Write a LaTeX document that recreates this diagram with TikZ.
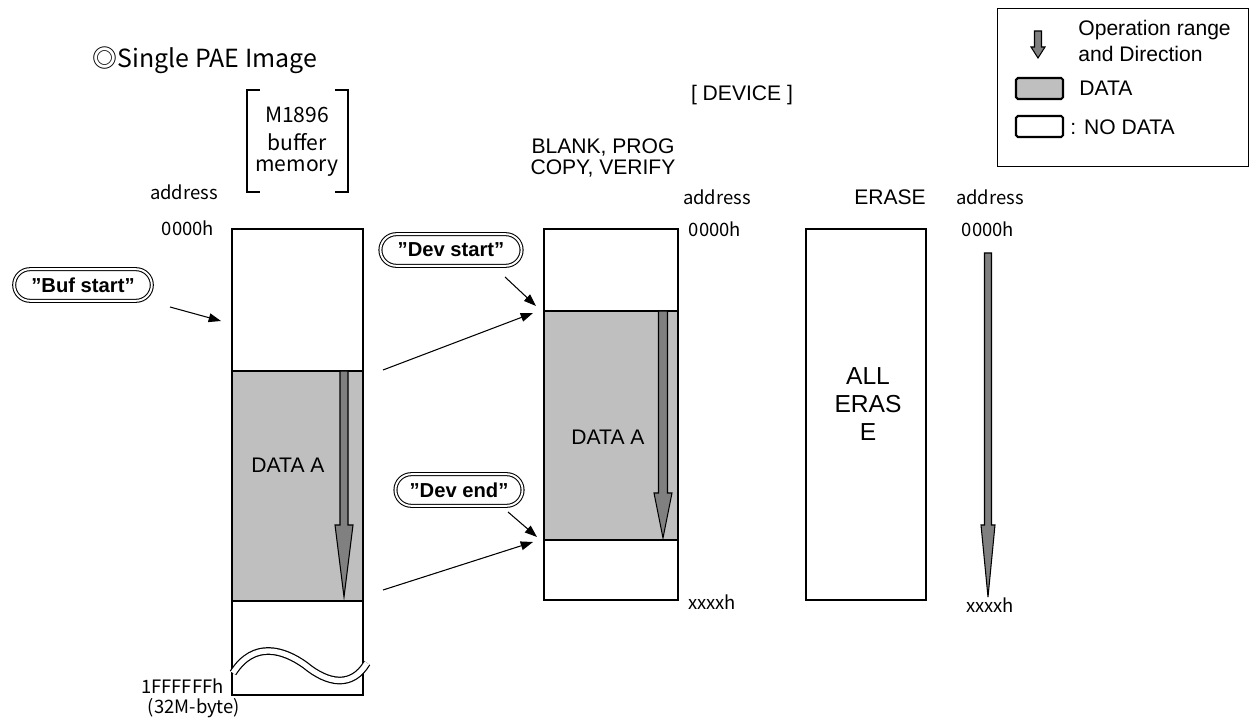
\documentclass[tikz,border=0pt]{standalone}
\usepackage{fontspec}
\setmainfont{Liberation Sans}
\newfontfamily\jpfont{Noto Sans CJK JP}
\usetikzlibrary{arrows.meta,shapes.misc}
% operation arrow: x, top, head start, tip, half shaft, half head
\newcommand{\opArrow}[6]{%
  \filldraw[oparrow] (#1-#5,#2) -- (#1+#5,#2) -- (#1+#5,#3) -- (#1+#6,#3)
    -- (#1,#4) -- (#1-#6,#3) -- (#1-#5,#3) -- cycle;}

\begin{document}
\begin{tikzpicture}[x=0.02cm,y=-0.02cm,line width=0.6pt,
  box/.style={line width=1.3pt},
  datafill/.style={fill=black!25},
  oparrow/.style={fill=black!50,draw=black,line width=0.6pt},
  ptr/.style={-{Triangle[length=7pt,width=5pt]},line width=0.6pt},
  tag/.style={draw,rounded rectangle,double,double distance=1.1pt,line width=0.6pt,
    minimum height=18pt,font=\bfseries\fontsize{11.5}{13}\selectfont},
  txt/.style={font=\fontsize{12}{14}\selectfont},
  big/.style={font=\fontsize{14}{16}\selectfont},
  jp/.style={font=\jpfont\fontsize{10.5}{12}\selectfont},
  jpbig/.style={font=\jpfont\fontsize{12}{14}\selectfont}]
  \useasboundingbox (0,0) rectangle (1255,719);

  % title
  \node[font=\jpfont\fontsize{14.2}{16}\selectfont] (title) at (205,60) {◎Single PAE Image};

  % legend
  \draw[line width=0.5pt] (997,8) rectangle (1248,166);
  \opArrow{1038}{31}{47}{58}{3.5}{7}
  \node[txt,anchor=west] (legop) at (1072,30) {Operation range};
  \node[txt,anchor=west] (legdir) at (1072,54) {and Direction};
  \draw[datafill,line width=1.2pt,rounded corners=1pt] (1016,78) rectangle (1063,99);
  \node[txt,anchor=west] (legdata) at (1073,88) {DATA};
  \draw[line width=1.2pt,rounded corners=1pt] (1016,116) rectangle (1063,137);
  \node[txt,anchor=west] (legnone) at (1064,127) {: NO DATA};

  % buffer memory
  \draw[line width=0.8pt] (260,90) -- (247,90) -- (247,192) -- (260,192);
  \draw[line width=0.8pt] (335,90) -- (348,90) -- (348,192) -- (335,192);
  \node[jpbig] (m1) at (297,115) {M1896};
  \node[jpbig] (m2) at (297,142) {buffer};
  \node[jpbig] (m3) at (297,168) {memory};
  \node[jp] (baddr) at (184,192) {address};
  \node[jp] (b0) at (188,228) {0000h};
  \node[jp,anchor=east] (bend) at (230,686) {1FFFFFFh};
  \node[jp] (bsize) at (194,708) {(32M-byte)};
  \fill[datafill] (232,371) rectangle (363,601);
  \draw[box] (232,229) rectangle (363,695);
  \draw[box] (232,371) -- (363,371) (232,601) -- (363,601);
  \node[txt] (bdata) at (288,465) {DATA A};
  \opArrow{344}{371}{525}{597}{4}{9}
  \draw[line width=0.7pt,double,double distance=3pt]
    (233,673) .. controls (254,640) and (284,650) .. (305,665)
    .. controls (328,684) and (352,688) .. (367,663);

  % device
  \node[txt] (dev) at (742,95) {[ DEVICE ]};
  \node[txt] (ops1) at (603,147) {BLANK, PROG};
  \node[txt] (ops2) at (603,168) {COPY, VERIFY};
  \node[jp] (daddr) at (717,197) {address};
  \node[jp] (d0) at (715,229) {0000h};
  \node[jp] (dx) at (712,602) {xxxxh};
  \fill[datafill] (544,311) rectangle (678,540);
  \draw[box] (544,229) rectangle (678,600);
  \draw[box] (544,311) -- (678,311) (544,540) -- (678,540);
  \node[txt] (ddata) at (608,437) {DATA A};
  \opArrow{663}{311}{493}{538}{4.5}{9}

  % erase
  \node[txt] (er) at (890,197) {ERASE};
  \draw[box] (806,229) rectangle (926,600);
  \node[big,align=center] (all) at (868,404) {ALL\\ERAS\\E};
  \node[jp] (eaddr) at (990,197) {address};
  \node[jp] (e0) at (988,229) {0000h};
  \node[jp] (ex) at (990,605) {xxxxh};
  \opArrow{988}{253}{525}{597}{3.5}{7}

  % start / end tags
  \node[tag,minimum width=85pt] (bufstart) at (83,285) {”Buf start”};
  \node[tag,minimum width=87pt] (devstart) at (451,250) {”Dev start”};
  \node[tag,minimum width=79pt] (devend) at (459,490) {”Dev end”};
  \coordinate (bs0) at (170,307);  \coordinate (bs1) at (221,321);
  \coordinate (ds0) at (505,277);  \coordinate (ds1) at (536,306);
  \coordinate (de0) at (508,512);  \coordinate (de1) at (537,537);
  \coordinate (ct0) at (383,370);  \coordinate (ct1) at (533,313);
  \coordinate (cb0) at (383,590);  \coordinate (cb1) at (533,542);
  \foreach \a/\b in {bs0/bs1,ds0/ds1,de0/de1,ct0/ct1,cb0/cb1}
    \draw[ptr] (\a) -- (\b);
\end{tikzpicture}
\end{document}
